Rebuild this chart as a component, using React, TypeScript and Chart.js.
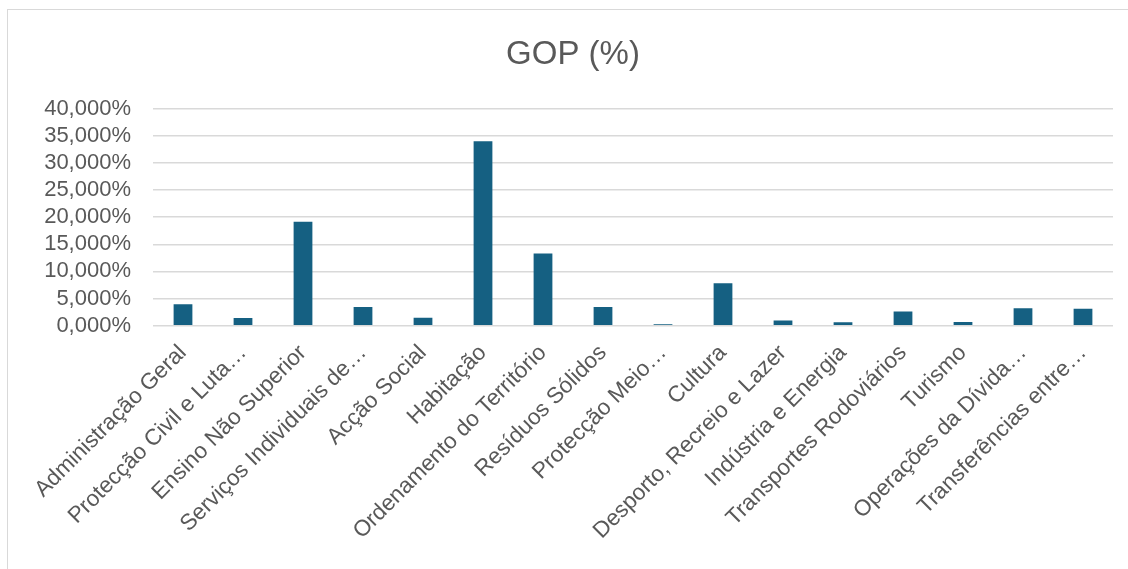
import React, { useEffect, useRef } from "react";
import { Chart, registerables } from "chart.js";

Chart.register(...registerables);

const categories: string[] = [
  "Administração Geral",
  "Protecção Civil e Luta…",
  "Ensino Não Superior",
  "Serviços Individuais de…",
  "Acção Social",
  "Habitação",
  "Ordenamento do Território",
  "Resíduos Sólidos",
  "Protecção Meio…",
  "Cultura",
  "Desporto, Recreio e Lazer",
  "Indústria e Energia",
  "Transportes Rodoviários",
  "Turismo",
  "Operações da Dívida…",
  "Transferências entre…",
];

const gopValues: number[] = [
  3.94, 1.42, 19.14, 3.44, 1.47, 33.98, 13.32, 3.44, 0.25, 7.8, 0.95, 0.65, 2.62, 0.7, 3.2, 3.1,
];

const yTicks: number[] = [0, 5, 10, 15, 20, 25, 30, 35, 40];

const chartTitle = "GOP (%)";

const FONT = "'Liberation Sans', Arial, sans-serif";
const TEXT = "#595959";
const GRID = "#d9d9d9";
const BAR = "#156082";

export default function App() {
  const ref = useRef<HTMLCanvasElement | null>(null);

  useEffect(() => {
    document.body.style.margin = "0";
    document.body.style.overflow = "hidden";
    const canvas = ref.current;
    if (!canvas) return;
    const chart = new Chart(canvas, {
      type: "bar",
      data: {
        labels: categories,
        datasets: [
          {
            label: chartTitle,
            data: gopValues,
            backgroundColor: BAR,
            borderWidth: 0,
            barPercentage: 0.313,
            categoryPercentage: 1,
          },
        ],
      },
      options: {
        responsive: false,
        animation: false,
        devicePixelRatio: 1,
        layout: { padding: { left: 25, right: 15, top: 0, bottom: 0 } },
        plugins: {
          legend: { display: false },
          tooltip: { enabled: false },
          title: {
            display: true,
            text: chartTitle,
            color: TEXT,
            font: { family: FONT, size: 33, weight: "normal" },
            padding: { top: 25, bottom: 34 },
          },
        },
        scales: {
          x: {
            grid: { display: false },
            border: { display: false },
            ticks: {
              autoSkip: false,
              maxRotation: 45,
              minRotation: 45,
              color: TEXT,
              padding: 6,
              font: { family: FONT, size: 22.5 },
            },
            afterFit: (scale: any) => {
              scale.height = 243.3;
            },
          },
          y: {
            min: 0,
            max: 40,
            afterBuildTicks: (scale: any) => {
              scale.ticks = yTicks.map((v) => ({ value: v }));
            },
            grid: { color: GRID, lineWidth: 1.5, drawTicks: false },
            border: { display: false },
            ticks: {
              autoSkip: false,
              color: TEXT,
              padding: 22,
              font: { family: FONT, size: 22, lineHeight: 1 },
              callback: (v: any) => `${Number(v).toFixed(3).replace(".", ",")}%`,
            },
            afterFit: (scale: any) => {
              scale.width = 120;
            },
          },
        },
      },
    });
    return () => chart.destroy();
  }, []);

  return (
    <div
      style={{
        position: "fixed",
        left: 7,
        top: 9,
        width: 1121,
        height: 560,
        boxSizing: "border-box",
        borderLeft: "1px solid #d9d9d9",
        borderTop: "1px solid #d9d9d9",
        background: "#ffffff",
      }}
    >
      <canvas ref={ref} width={1120} height={559} style={{ display: "block", width: 1120, height: 559 }} />
    </div>
  );
}
